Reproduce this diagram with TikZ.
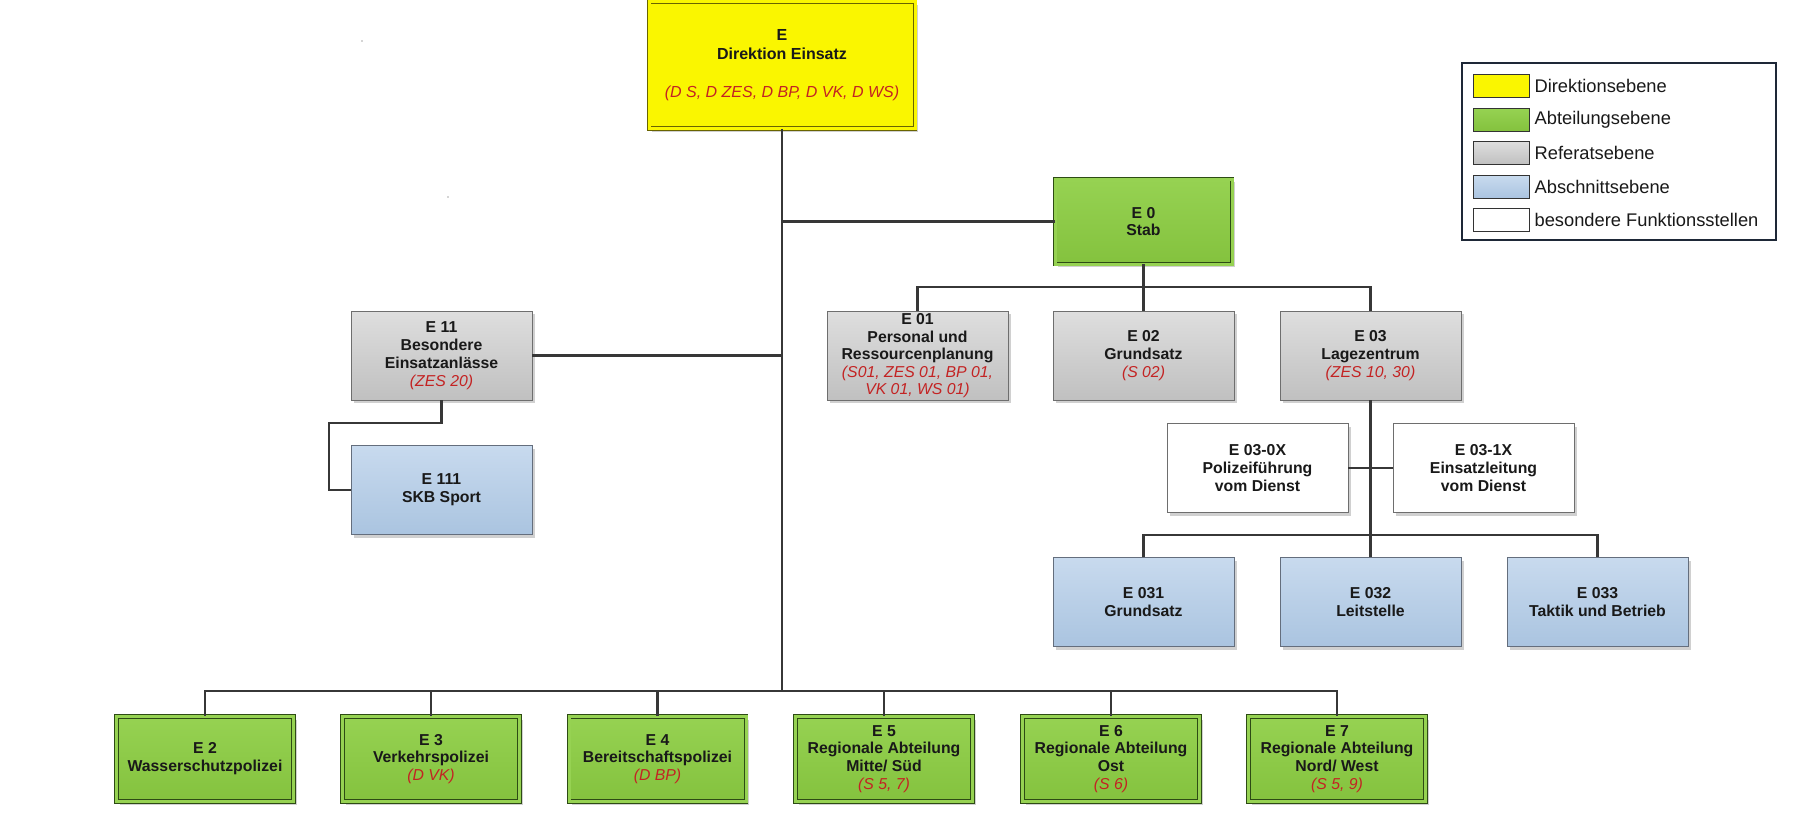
\documentclass[tikz,border=0pt]{standalone}
\usepackage{fontspec}
\setmainfont{Liberation Sans}
\usetikzlibrary{shadows}
\definecolor{lnk}{RGB}{55,55,55}
\definecolor{yfill}{RGB}{250,246,0}
\definecolor{yline}{RGB}{105,100,0}
\definecolor{gtop}{RGB}{150,210,82}
\definecolor{gbot}{RGB}{132,194,62}
\definecolor{gline}{RGB}{45,75,20}
\definecolor{grtop}{RGB}{222,222,222}
\definecolor{grbot}{RGB}{192,192,192}
\definecolor{grline}{RGB}{110,110,110}
\definecolor{btop}{RGB}{200,218,238}
\definecolor{bbot}{RGB}{170,196,224}
\definecolor{bline}{RGB}{100,110,125}
\definecolor{redt}{RGB}{195,35,35}
\definecolor{legline}{RGB}{30,40,55}
\newcommand\rtxt[1]{{\color{redt}\mdseries\itshape #1}}
\tikzset{
  box/.style={minimum width=181pt, minimum height=89pt, inner sep=1pt, align=center,
    font=\fontsize{15.8}{17.8}\selectfont\bfseries, text=black!90,
    drop shadow={shadow xshift=3pt, shadow yshift=-3pt, opacity=0.3, fill=black!60}},
  ybox/.style={box, minimum width=266pt, minimum height=127pt, draw=yline, line width=0.9pt,
    double=yfill, double distance=3pt, fill=yfill, font=\fontsize{16}{19.5}\selectfont\bfseries},
  gbox/.style={box, minimum width=177pt, minimum height=85pt, draw=gline, line width=0.9pt,
    double=gtop, double distance=3pt, top color=gtop, bottom color=gbot},
  grbox/.style={box, draw=grline, line width=0.8pt, top color=grtop, bottom color=grbot},
  bbox/.style={box, draw=bline, line width=0.8pt, top color=btop, bottom color=bbot},
  wbox/.style={box, draw=grline, line width=0.8pt, fill=white},
  conn/.style={draw=lnk, line width=2.8pt},
  sw/.style={draw=black!80, line width=0.8pt, minimum width=56pt, minimum height=23pt, inner sep=0pt},
  legtxt/.style={anchor=west, inner sep=0pt, xshift=5pt, font=\fontsize{18.3}{20}\selectfont, text=black!90}
}
\begin{document}
\begin{tikzpicture}[x=1pt,y=-1pt]
\useasboundingbox[fill=white] (0,0) rectangle (1819,823);

% top
\node[ybox] (E) at (782,65) {E\\Direktion Einsatz\\[18pt]\rtxt{(D S, D ZES, D BP, D VK, D WS)}};
\node[gbox] (E0) at (1143.5,221.5) {E 0\\Stab};

\node[grbox] (E01) at (917.5,355.5) {E 01\\Personal und\\Ressourcenplanung\\\rtxt{(S01, ZES 01, BP 01,}\\[-1pt]\rtxt{VK 01, WS 01)}};
\node[grbox] (E02) at (1143.5,355.5) {E 02\\Grundsatz\\\rtxt{(S 02)}};
\node[grbox] (E03) at (1370.5,355.5) {E 03\\Lagezentrum\\\rtxt{(ZES 10, 30)}};
\node[grbox] (E11) at (441.5,355.5) {E 11\\Besondere\\Einsatzanlässe\\\rtxt{(ZES 20)}};
\node[bbox] (E111) at (441.5,490) {E 111\\SKB Sport};

\node[wbox] (E03a) at (1257.5,468) {E 03-0X\\Polizeiführung\\vom Dienst};
\node[wbox] (E03b) at (1483.5,468) {E 03-1X\\Einsatzleitung\\vom Dienst};

\node[bbox] (E031) at (1143.5,602) {E 031\\Grundsatz};
\node[bbox] (E032) at (1370.5,602) {E 032\\Leitstelle};
\node[bbox] (E033) at (1597.5,602) {E 033\\Taktik und Betrieb};

\node[gbox] (E2) at (205,759) {E 2\\Wasserschutzpolizei};
\node[gbox] (E3) at (431,759) {E 3\\Verkehrspolizei\\\rtxt{(D VK)}};
\node[gbox] (E4) at (657.5,759) {E 4\\Bereitschaftspolizei\\\rtxt{(D BP)}};
\node[gbox] (E5) at (884,759) {E 5\\Regionale Abteilung\\Mitte/ Süd\\\rtxt{(S 5, 7)}};
\node[gbox] (E6) at (1111,759) {E 6\\Regionale Abteilung\\Ost\\\rtxt{(S 6)}};
\node[gbox] (E7) at (1337,759) {E 7\\Regionale Abteilung\\Nord/ West\\\rtxt{(S 5, 9)}};

% connectors
\coordinate (tb) at (782,691);
\coordinate (b0) at (1143.5,287);
\coordinate (b3) at (1370.5,535);
\coordinate (k1) at (329,423);

\draw[conn] (E.south) -- (tb);
\draw[conn] (E.south |- E0.west) -- (E0.west);
\draw[conn] (E11.east) -- (E11.east -| E.south);
\draw[conn] (E11.south) |- (k1) |- (E111.west);

\draw[conn] (E0.south) -- (b0);
\draw[conn] (E01.north) |- (b0) -| (E03.north);
\draw[conn] (E02.north) -- (b0);

\draw[conn] (E03.south) -- (b3);
\draw[conn] (E03a.east) -- (E03b.west);
\draw[conn] (E031.north) |- (b3) -| (E033.north);
\draw[conn] (E032.north) -- (b3);

\draw[conn] (E2.north) |- (tb) -| (E7.north);
\foreach \n in {E3,E4,E5,E6} \draw[conn] (\n.north) -- (\n.north |- tb);

% legend
\node[draw=legline, line width=1.2pt, minimum width=314pt, minimum height=177pt, inner sep=0pt] (leg) at (1619,151.5) {};
\node[sw, fill=yfill] (s1) at (1501,85.5) {};
\node[sw, top color=gtop, bottom color=gbot] (s2) at (1501,119.5) {};
\node[sw, top color=grtop, bottom color=grbot] (s3) at (1501,153) {};
\node[sw, top color=btop, bottom color=bbot] (s4) at (1501,187) {};
\node[sw, fill=white] (s5) at (1501,219.5) {};
\node[legtxt] (t1) at (s1.east) {Direktionsebene};
\node[legtxt] (t2) at (s2.east) {Abteilungsebene};
\node[legtxt] (t3) at (s3.east) {Referatsebene};
\node[legtxt] (t4) at (s4.east) {Abschnittsebene};
\node[legtxt] (t5) at (s5.east) {besondere Funktionsstellen};

% stray dots
\fill[black!70] (362,41) circle (0.7);
\fill[black!70] (448,197) circle (0.7);
\end{tikzpicture}
\end{document}
